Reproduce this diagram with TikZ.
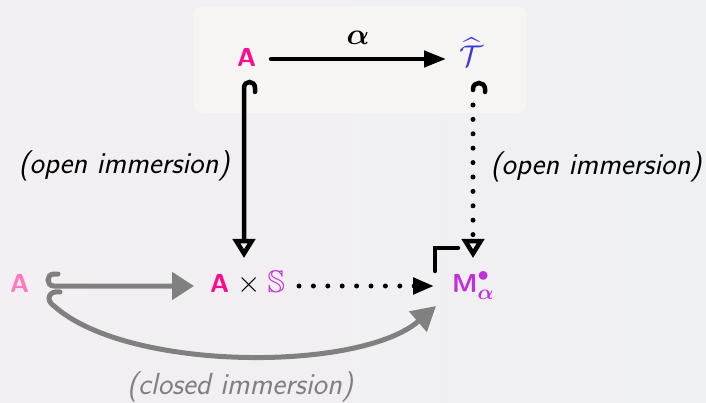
\RequirePackage{fix-cm}
\documentclass[tikz,border=0pt]{standalone}
\usepackage{amsmath,amssymb,bm}
\usetikzlibrary{arrows.meta}
\definecolor{pinkA}{HTML}{FF0A8C}
\definecolor{lpinkA}{HTML}{FF78C0}
\definecolor{purpM}{HTML}{C22EDC}
\definecolor{blueT}{HTML}{3A3AD8}
\definecolor{grayar}{HTML}{808080}
\definecolor{bgL}{HTML}{F3EFF2}
\definecolor{bgR}{HTML}{EFF0F3}
\definecolor{boxc}{HTML}{F6F5F4}
\newcommand{\bigmath}{\fontsize{30}{34}\selectfont}
\tikzset{
  obj/.style={inner sep=0pt, anchor=base west, font=\fontsize{26}{30}\selectfont\sffamily\bfseries},
  lbl/.style={inner sep=0pt, font=\fontsize{30.5}{34}\selectfont\sffamily\itshape},
  blk/.style={line width=4.5pt, black, line cap=round},
  gry/.style={line width=5pt, grayar, line cap=round},
  dotl/.style={dash pattern=on 0pt off 14.4pt, line cap=round, line width=5pt},
  opentip/.style={-{Triangle[open,length=19pt,width=22pt,line width=4.5pt]}},
}
\begin{document}
\begin{tikzpicture}[x=1pt,y=-1pt]
\shade[left color=bgL, right color=bgR] (0,0) rectangle (706,403);
\useasboundingbox (0,0) rectangle (706,403);
\fill[boxc, rounded corners=10pt] (193,6) rectangle (527,113);
% objects
\node[obj, text=pinkA] (A) at (237,67) {A};
\node[obj, text=blueT, font=\bigmath] (T) at (459,67) {$\widehat{\mathcal{T}}$};
\node[obj, text=lpinkA] (A0) at (10,292) {A};
\node[obj] (AS) at (210,292) {\textcolor{pinkA}{A}\hspace{8pt}{\bigmath$\times$}\hspace{7pt}\textcolor{purpM}{\scalebox{1.2}{$\mathbb{S}$}}};
\node[obj, text=purpM] (M) at (452,292) {M{\bigmath$^{\scalebox{0.75}{$\bullet$}}_{\bm{\alpha}}$}};
% connector end points
\coordinate (Ae) at (271,59);
\coordinate (Tw) at (446,59);
\coordinate (Ahk) at (255,92);
\coordinate (ASn) at (244,258);
\coordinate (Thk) at (485,92);
\coordinate (Ts) at (473,105);
\coordinate (Mn) at (473,258);
\coordinate (A0hk) at (58,274);
\coordinate (ASw) at (194,286);
\coordinate (ASe) at (299,286);
\coordinate (Mw) at (434,286);
\coordinate (A0hk2) at (60,292);
\coordinate (Msw) at (436,306);
% top arrow
\draw[blk, -{Triangle[length=22pt,width=16pt]}] (Ae) -- (Tw);
\node[anchor=base, inner sep=0pt, font=\bigmath] (al) at (358,45) {$\bm{\alpha}$};
% left vertical with hook
\draw[blk, opentip] (Ahk) -- ++(0,-4) .. controls ++(0,-8) and ++(0,-8) .. ++(-11,0) -- (ASn);
\node[lbl] (l1) at (124,166) {(open immersion)};
% right vertical dotted with hook
\draw[blk] (Thk) -- ++(0,-3) .. controls ++(0,-8) and ++(0,-8) .. ++(-12,0) -- ++(0,1);
\draw[blk, dotl, opentip] (Ts) -- (Mn);
\node[lbl] (l2) at (596,167) {(open immersion)};
% bottom gray horizontal with hook
\draw[gry, -{Triangle[length=22pt,width=27pt]}] (A0hk) -- ++(-4,0) .. controls ++(-8,0) and ++(-8,0) .. ++(0,12) -- (ASw);
% dotted horizontal
\draw[blk, dotl, -{Triangle[length=21pt,width=16pt]}] (ASe) -- (Mw);
% pullback corner
\draw[line width=4.5pt, line cap=round, line join=miter] (435,271) -- (435,248) -- (458,248);
% curved
\draw[gry, -{Triangle[length=24pt,width=26pt]}] (A0hk2) .. controls (49,290) and (45,300) .. (54,306) .. controls (128,372) and (360,372) .. (Msw);
\node[lbl, text=grayar] (l3) at (240,387) {(closed immersion)};
\end{tikzpicture}
\end{document}
